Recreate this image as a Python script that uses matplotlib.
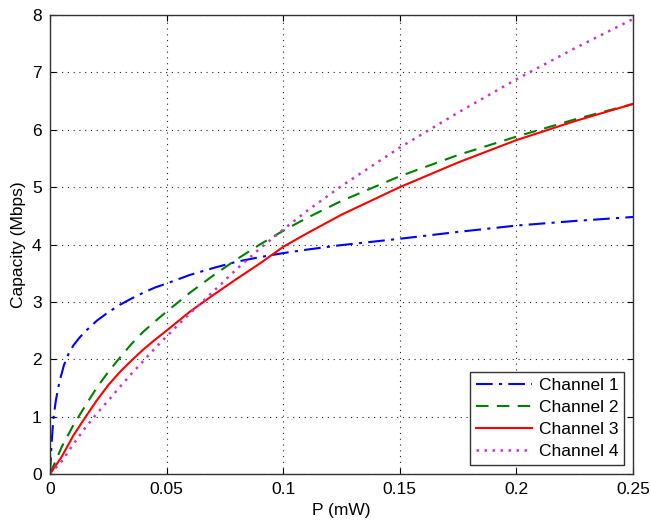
"""Channel capacity versus transmit power, MATLAB-style line chart."""

import matplotlib

matplotlib.use("Agg")
import matplotlib.pyplot as plt

plt.rcParams["font.family"] = ["Liberation Sans", "DejaVu Sans"]

# channel 1: sampled more densely near zero where it rises steeply
ch1_power = [0, 0.0005, 0.001, 0.0015, 0.0025, 0.004, 0.006, 0.008, 0.01, 0.0125,
             0.015, 0.02, 0.025, 0.03, 0.035, 0.04, 0.045, 0.05, 0.06, 0.07, 0.08,
             0.09, 0.1, 0.11, 0.125, 0.15, 0.175, 0.2, 0.225, 0.25]
ch1_capacity = [0, 0.4, 0.72, 0.98, 1.28, 1.6, 1.9, 2.1, 2.24, 2.37,
                2.48, 2.67, 2.82, 2.95, 3.06, 3.16, 3.25, 3.32, 3.47, 3.59, 3.7,
                3.78, 3.85, 3.91, 3.99, 4.1, 4.22, 4.33, 4.41, 4.48]

power = [0, 0.005, 0.01, 0.015, 0.02, 0.025, 0.03, 0.035, 0.04, 0.045, 0.05, 0.06,
         0.07, 0.08, 0.09, 0.1, 0.11, 0.125, 0.15, 0.175, 0.2, 0.225, 0.25]
ch2_capacity = [0, 0.47, 0.85, 1.18, 1.5, 1.78, 2.03, 2.27, 2.48, 2.66, 2.83, 3.16,
                3.46, 3.74, 4.0, 4.24, 4.46, 4.76, 5.19, 5.56, 5.88, 6.18, 6.45]
ch3_capacity = [0, 0.3, 0.67, 0.98, 1.28, 1.55, 1.78, 1.98, 2.17, 2.34, 2.5, 2.83,
                3.12, 3.4, 3.67, 3.96, 4.19, 4.52, 5.0, 5.43, 5.82, 6.15, 6.45]
ch4_capacity = [0, 0.22, 0.52, 0.8, 1.05, 1.28, 1.52, 1.75, 1.97, 2.19, 2.4, 2.8,
                3.18, 3.57, 3.93, 4.26, 4.58, 5.02, 5.69, 6.3, 6.88, 7.42, 7.93]

labels = ["Channel 1", "Channel 2", "Channel 3", "Channel 4"]
x_ticks = [0, 0.05, 0.1, 0.15, 0.2, 0.25]
x_tick_labels = ["0", "0.05", "0.1", "0.15", "0.2", "0.25"]
y_ticks = [0, 1, 2, 3, 4, 5, 6, 7, 8]

figure = plt.figure(figsize=(6.51, 5.21), dpi=100)
axis = figure.add_axes([0.0768, 0.0902, 0.8956, 0.881])

axis.plot(ch1_power, ch1_capacity, color="#0000FF", linestyle=(0, (8, 3, 1.5, 3)),
          linewidth=1.5, label=labels[0])
axis.plot(power, ch2_capacity, color="#008000", linestyle=(0, (6, 4)),
          linewidth=1.5, label=labels[1])
axis.plot(power, ch3_capacity, color="#FF0000", linestyle="-",
          linewidth=1.5, label=labels[2])
axis.plot(power, ch4_capacity, color="#CC33CC", linestyle=(0, (1, 2.2)),
          linewidth=1.8, label=labels[3])

axis.set_xlim(0, 0.25)
axis.set_ylim(0, 8)
axis.set_xticks(x_ticks, labels=x_tick_labels)
axis.set_yticks(y_ticks)
axis.grid(True, color="#222222", linestyle=(0, (1, 4.2)), linewidth=0.8)
axis.tick_params(direction="in", top=True, right=True, length=4, labelsize=12.5,
                 pad=6)
for spine in axis.spines.values():
    spine.set_color("#333333")
    spine.set_linewidth(1.0)

axis.set_xlabel("P (mW)", fontsize=12.5, labelpad=4)
axis.set_ylabel("Capacity (Mbps)", fontsize=12.5, labelpad=4)

legend = axis.legend(loc="lower right", fontsize=12.5, fancybox=False,
                     framealpha=1, edgecolor="#333333", borderaxespad=0.5,
                     handlelength=3.2, labelspacing=0.4, borderpad=0.35,
                     handletextpad=0.4)
legend.get_frame().set_linewidth(1.0)

figure.savefig("out.png", dpi=100)
